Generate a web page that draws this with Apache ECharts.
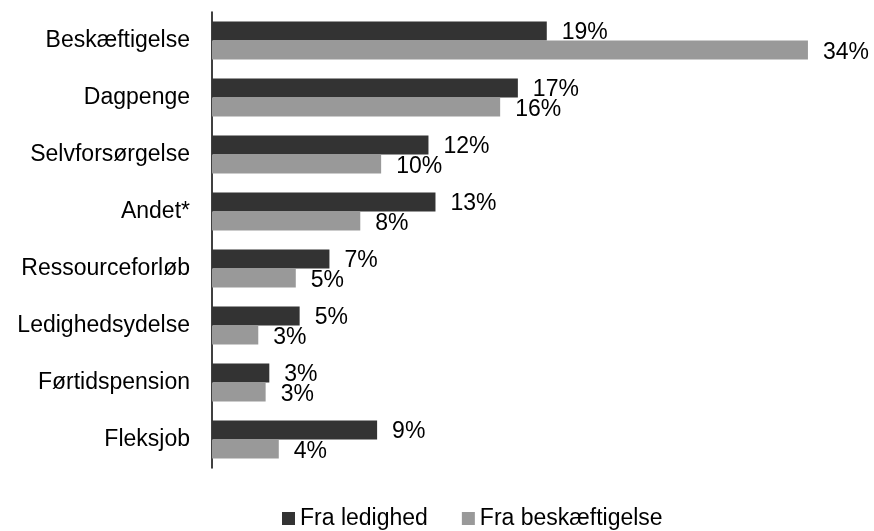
<!DOCTYPE html>
<html>
<head>
<meta charset="utf-8">
<script src="https://cdn.jsdelivr.net/npm/echarts@6/dist/echarts.min.js"></script>
<style>
  html, body { margin: 0; padding: 0; background: #fff; }
  #chart { width: 874px; height: 531px; }
</style>
</head>
<body>
<div id="chart"></div>
<script>
const categories = ['Beskæftigelse', 'Dagpenge', 'Selvforsørgelse', 'Andet*', 'Ressourceforløb', 'Ledighedsydelse', 'Førtidspension', 'Fleksjob'];
const fraLedighed = [19.1, 17.45, 12.35, 12.75, 6.7, 5.0, 3.27, 9.42];
const fraBeskaeftigelse = [34.0, 16.44, 9.65, 8.46, 4.78, 2.64, 3.06, 3.81];

const FONT = 'Liberation Sans, Arial, sans-serif';

const chart = echarts.init(document.getElementById('chart'), null, { renderer: 'canvas' });

const pctLabel = (dy) => ({
  show: true,
  position: 'right',
  distance: 15,
  offset: [0, dy],
  color: '#000',
  fontFamily: FONT,
  fontSize: 23,
  formatter: p => Math.round(p.value) + '%',
});

chart.setOption({
  animation: false,
  backgroundColor: '#fff',
  grid: { left: 212, right: 31, top: 12, bottom: 63, containLabel: false },
  legend: {
    left: 277,
    top: 502,
    icon: 'rect',
    itemWidth: 13,
    itemHeight: 13,
    itemGap: 34,
    textStyle: { color: '#000', fontFamily: FONT, fontSize: 23 },
    data: ['Fra ledighed', 'Fra beskæftigelse'],
  },
  xAxis: {
    type: 'value',
    min: 0,
    max: 36,
    show: false,
  },
  yAxis: {
    type: 'category',
    inverse: true,
    data: categories,
    axisLine: { show: true, lineStyle: { color: '#000', width: 1.5 } },
    axisTick: { show: false },
    axisLabel: { color: '#000', fontFamily: FONT, fontSize: 23, margin: 22 },
  },
  series: [
    {
      name: 'Fra ledighed',
      type: 'bar',
      data: fraLedighed,
      barWidth: 19,
      barGap: '0%',
      itemStyle: { color: '#333333' },
      label: pctLabel(2),
    },
    {
      name: 'Fra beskæftigelse',
      type: 'bar',
      data: fraBeskaeftigelse,
      barWidth: 19,
      barGap: '0%',
      itemStyle: { color: '#999999' },
      label: pctLabel(3),
    },
  ],
});
</script>
</body>
</html>
